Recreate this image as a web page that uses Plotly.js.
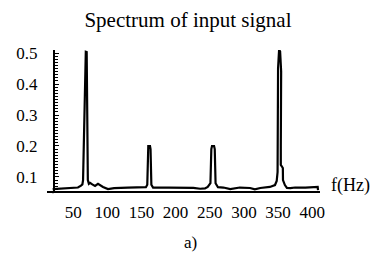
<!DOCTYPE html>
<html>
<head>
<meta charset="utf-8">
<script src="https://cdn.plot.ly/plotly-3.0.1.min.js"></script>
<style>html,body{margin:0;padding:0;background:#fff;}#chart{width:370px;height:255px;}</style>
</head>
<body>
<div id="chart"></div>
<script>
// Spectrum of input signal
const freq = [20, 30, 45, 57, 61.5, 63.5, 64.5, 66, 67.5, 68.5, 69.8, 70.3, 70.8, 71.5, 73, 74.7, 78, 82, 86.4, 90, 93.7, 101, 110, 130, 156.5, 158.5, 159.3, 160, 162.5, 163.3, 164.5, 167, 190, 210, 226, 236, 243, 247, 251, 252.3, 253.3, 256.3, 257.3, 258.5, 262, 270, 280, 294, 309, 316, 324, 338, 345.5, 348, 349.3, 350, 351.5, 353, 354.5, 354, 354, 357, 357.2, 360, 363, 368, 375, 390, 404, 408, 408.5];
const amp  = [0.061, 0.062, 0.065, 0.066, 0.072, 0.076, 0.09, 0.3, 0.5, 0.504, 0.503, 0.3, 0.12, 0.09, 0.078, 0.081, 0.076, 0.071, 0.078, 0.072, 0.068, 0.061, 0.064, 0.066, 0.067, 0.075, 0.19, 0.2, 0.2, 0.19, 0.075, 0.066, 0.066, 0.065, 0.065, 0.062, 0.063, 0.068, 0.08, 0.19, 0.2, 0.2, 0.19, 0.08, 0.067, 0.066, 0.061, 0.066, 0.0645, 0.06, 0.0645, 0.068, 0.074, 0.087, 0.116, 0.45, 0.51, 0.505, 0.44, 0.2, 0.139, 0.129, 0.09, 0.074, 0.065, 0.064, 0.066, 0.066, 0.067, 0.068, 0.058];
const xTicks = [50, 100, 150, 200, 250, 300, 350, 400];
const yTicks = [0.1, 0.2, 0.3, 0.4, 0.5];
const yTickLabels = ["0.1", "0.2", "0.3", "0.4", "0.5"];

const font = "Liberation Serif, Times New Roman, serif";
const trace = {
  x: freq, y: amp, type: 'scatter', mode: 'lines',
  line: {color: '#000', width: 2.2, shape: 'linear'},
  hoverinfo: 'skip'
};
const layout = {
  width: 370, height: 255,
  margin: {l: 47, r: 50, t: 50, b: 64},
  paper_bgcolor: '#fff', plot_bgcolor: '#fff',
  showlegend: false,
  font: {family: font, size: 17, color: '#000'},
  title: {text: 'Spectrum of input signal', font: {family: font, size: 21, color: '#000'},
          x: 0.508, xref: 'container', xanchor: 'center', y: 1 - 20/255, yref: 'container', yanchor: 'middle'},
  xaxis: {
    range: [11.7, 411.4], showgrid: false, zeroline: false,
    showline: true, linecolor: '#000', linewidth: 2,
    tickmode: 'array', tickvals: xTicks, ticktext: xTicks.map(String),
    ticks: '', ticklabelstandoff: 5,
    tickfont: {family: font, size: 17, color: '#000'}
  },
  yaxis: {
    range: [0.0548, 0.5097], showgrid: false, zeroline: false,
    anchor: 'free', position: 6/273,
    showline: true, linecolor: '#000', linewidth: 1.5,
    tickmode: 'array', tickvals: yTicks, ticktext: yTickLabels,
    ticks: 'inside', ticklen: 4, tickwidth: 1, tickcolor: '#000',
    minor: {dtick: 0.01, tick0: 0, ticks: 'inside', ticklen: 3, tickwidth: 1, tickcolor: '#000'},
    tickfont: {family: font, size: 17, color: '#000'},
    ticklabelstandoff: 12
  },
  shapes: [
    {type: 'line', xref: 'paper', yref: 'paper', x0: 6/273, x1: 6/273, y0: -0.016, y1: 0, line: {color: '#000', width: 1.5}}
  ],
  annotations: [
    {text: 'f(Hz)', xref: 'paper', yref: 'paper', x: 1 + 9/273, y: 0.04, xanchor: 'left', yanchor: 'middle', showarrow: false, font: {family: font, size: 18, color: '#000'}},
    {text: 'a)', xref: 'paper', yref: 'paper', x: (190 - 47)/273, y: (191 - 242)/141, xanchor: 'center', yanchor: 'middle', showarrow: false, font: {family: font, size: 17, color: '#000'}}
  ]
};
Plotly.newPlot('chart', [trace], layout, {displayModeBar: false, staticPlot: true});
</script>
</body>
</html>
